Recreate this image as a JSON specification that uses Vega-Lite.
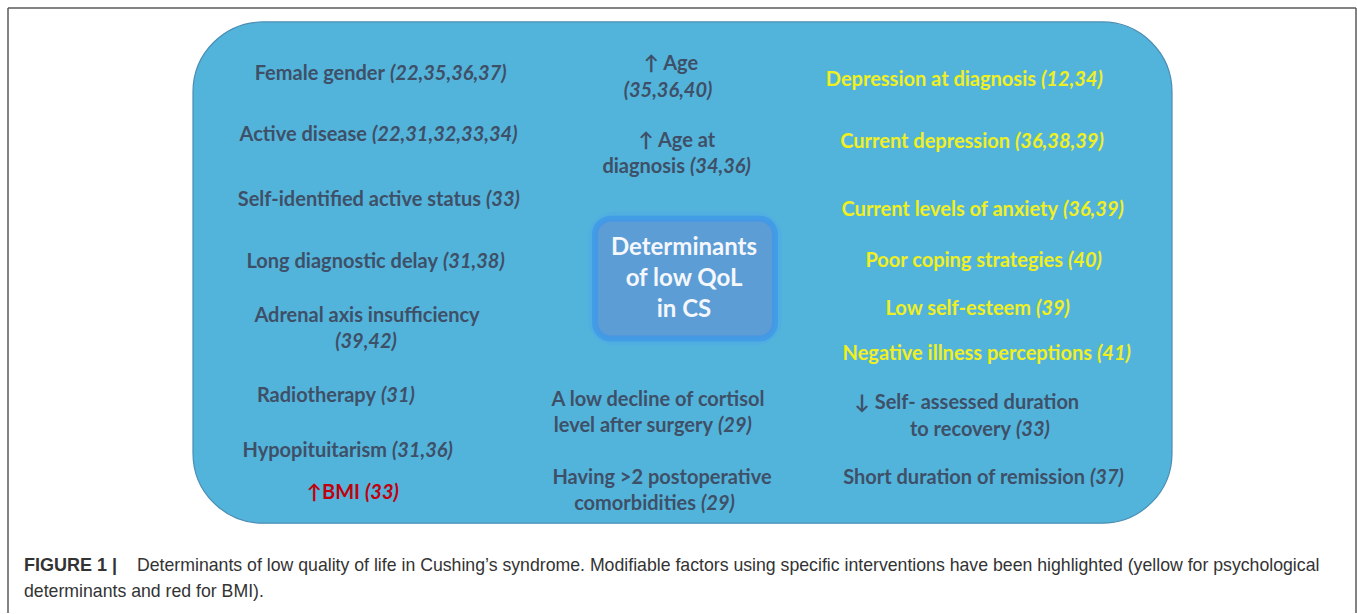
{
  "$schema": "https://vega.github.io/schema/vega-lite/v6.json",
  "width": 1357,
  "height": 614,
  "autosize": {"type": "fit", "contains": "padding"},
  "padding": 0,
  "background": "#ffffff",
  "config": {"view": {"stroke": null}},
  "datasets": {
    "lines": [
      {"x": 8, "y": 8, "x2": 1356, "y2": 8},
      {"x": 8, "y": 8, "x2": 8, "y2": 614},
      {"x": 1356, "y": 8, "x2": 1356, "y2": 614}
    ],
    "boxes": [
      {"x": 193, "x2": 1172, "y": 22, "y2": 524, "kind": "outer"},
      {"x": 595, "x2": 775, "y": 219, "y2": 339, "kind": "center"}
    ],
    "labels": [
      {"x": 390, "y": 74, "t": "Female gender", "kind": "r", "grp": "n"},
      {"x": 390, "y": 74, "t": "(22,35,36,37)", "kind": "i", "grp": "n"},
      {"x": 372, "y": 135, "t": "Active disease", "kind": "r", "grp": "n"},
      {"x": 372, "y": 135, "t": "(22,31,32,33,34)", "kind": "i", "grp": "n"},
      {"x": 486, "y": 200, "t": "Self-identified active status", "kind": "r", "grp": "n"},
      {"x": 486, "y": 200, "t": "(33)", "kind": "i", "grp": "n"},
      {"x": 443, "y": 262, "t": "Long diagnostic delay", "kind": "r", "grp": "n"},
      {"x": 443, "y": 262, "t": "(31,38)", "kind": "i", "grp": "n"},
      {"x": 367, "y": 317, "t": "Adrenal axis insufficiency", "kind": "c", "grp": "n"},
      {"x": 366, "y": 343, "t": "(39,42)", "kind": "ic", "grp": "n"},
      {"x": 381, "y": 397, "t": "Radiotherapy", "kind": "r", "grp": "n"},
      {"x": 381, "y": 397, "t": "(31)", "kind": "i", "grp": "n"},
      {"x": 392, "y": 452, "t": "Hypopituitarism", "kind": "r", "grp": "n"},
      {"x": 392, "y": 452, "t": "(31,36)", "kind": "i", "grp": "n"},
      {"x": 365, "y": 494, "t": "↑BMI", "kind": "r", "grp": "r"},
      {"x": 365, "y": 494, "t": "(33)", "kind": "i", "grp": "r"},
      {"x": 671, "y": 64, "t": "↑  Age", "kind": "c", "grp": "n"},
      {"x": 668, "y": 91, "t": "(35,36,40)", "kind": "ic", "grp": "n"},
      {"x": 677, "y": 141, "t": "↑  Age at", "kind": "c", "grp": "n"},
      {"x": 690, "y": 167, "t": "diagnosis", "kind": "r", "grp": "n"},
      {"x": 690, "y": 167, "t": "(34,36)", "kind": "i", "grp": "n"},
      {"x": 684, "y": 248, "t": "Determinants", "kind": "h", "grp": "w"},
      {"x": 684, "y": 279, "t": "of low QoL", "kind": "h", "grp": "w"},
      {"x": 684, "y": 311, "t": "in CS", "kind": "h", "grp": "w"},
      {"x": 658, "y": 401, "t": "A low decline of cortisol", "kind": "c", "grp": "n"},
      {"x": 718, "y": 427, "t": "level after surgery", "kind": "r", "grp": "n"},
      {"x": 718, "y": 427, "t": "(29)", "kind": "i", "grp": "n"},
      {"x": 662, "y": 479, "t": "Having >2 postoperative", "kind": "c", "grp": "n"},
      {"x": 701, "y": 505, "t": "comorbidities", "kind": "r", "grp": "n"},
      {"x": 701, "y": 505, "t": "(29)", "kind": "i", "grp": "n"},
      {"x": 1041, "y": 80, "t": "Depression at diagnosis", "kind": "r", "grp": "y"},
      {"x": 1041, "y": 80, "t": "(12,34)", "kind": "i", "grp": "y"},
      {"x": 1015, "y": 142, "t": "Current depression", "kind": "r", "grp": "y"},
      {"x": 1015, "y": 142, "t": "(36,38,39)", "kind": "i", "grp": "y"},
      {"x": 1063, "y": 210, "t": "Current levels of anxiety", "kind": "r", "grp": "y"},
      {"x": 1063, "y": 210, "t": "(36,39)", "kind": "i", "grp": "y"},
      {"x": 1068, "y": 261, "t": "Poor coping strategies", "kind": "r", "grp": "y"},
      {"x": 1068, "y": 261, "t": "(40)", "kind": "i", "grp": "y"},
      {"x": 1036, "y": 310, "t": "Low self-esteem", "kind": "r", "grp": "y"},
      {"x": 1036, "y": 310, "t": "(39)", "kind": "i", "grp": "y"},
      {"x": 1097, "y": 355, "t": "Negative illness perceptions", "kind": "r", "grp": "y"},
      {"x": 1097, "y": 355, "t": "(41)", "kind": "i", "grp": "y"},
      {"x": 967, "y": 404, "t": "↓  Self- assessed duration", "kind": "c", "grp": "n"},
      {"x": 1016, "y": 431, "t": "to recovery", "kind": "r", "grp": "n"},
      {"x": 1016, "y": 431, "t": "(33)", "kind": "i", "grp": "n"},
      {"x": 1090, "y": 479, "t": "Short duration of remission", "kind": "r", "grp": "n"},
      {"x": 1090, "y": 479, "t": "(37)", "kind": "i", "grp": "n"},
      {"x": 24, "y": 567, "t": "FIGURE 1 |", "kind": "capb", "grp": "k"},
      {"x": 137, "y": 567, "t": "Determinants of low quality of life in Cushing’s syndrome. Modifiable factors using specific interventions have been highlighted (yellow for psychological", "kind": "cap", "grp": "k"},
      {"x": 24, "y": 593, "t": "determinants and red for BMI).", "kind": "cap", "grp": "k"}
    ]
  },
  "encoding": {
    "x": {"field": "x", "type": "quantitative", "scale": {"domain": [0, 1357], "nice": false, "zero": false}, "axis": null},
    "y": {"field": "y", "type": "quantitative", "scale": {"domain": [0, 614], "nice": false, "zero": false, "reverse": true}, "axis": null}
  },
  "layer": [
    {
      "data": {"name": "lines"},
      "mark": {"type": "rule", "stroke": "#5a5a5a", "strokeWidth": 1.5},
      "encoding": {"x2": {"field": "x2"}, "y2": {"field": "y2"}}
    },
    {
      "data": {"name": "boxes"},
      "transform": [{"filter": "datum.kind === 'outer'"}],
      "mark": {"type": "rect", "fill": "#53b4db", "stroke": "#4a8db3", "strokeWidth": 1.2, "cornerRadius": 70},
      "encoding": {"x2": {"field": "x2"}, "y2": {"field": "y2"}}
    },
    {
      "data": {"name": "boxes"},
      "transform": [{"filter": "datum.kind === 'center'"}],
      "mark": {"type": "rect", "fill": "none", "stroke": "#4aa2ee", "strokeWidth": 14, "strokeOpacity": 0.3, "cornerRadius": 20},
      "encoding": {"x2": {"field": "x2"}, "y2": {"field": "y2"}}
    },
    {
      "data": {"name": "boxes"},
      "transform": [{"filter": "datum.kind === 'center'"}],
      "mark": {"type": "rect", "fill": "#5d9dd6", "stroke": "#3c95ea", "strokeWidth": 6, "strokeOpacity": 0.7, "cornerRadius": 16},
      "encoding": {"x2": {"field": "x2"}, "y2": {"field": "y2"}}
    },
    {
      "data": {"name": "labels"},
      "transform": [{"filter": "datum.kind === 'c'"}],
      "mark": {"type": "text", "align": "center", "baseline": "middle", "font": "Lato", "fontWeight": "bold", "fontSize": 20},
      "encoding": {"text": {"field": "t"}, "color": {"field": "grp", "type": "nominal", "scale": {"domain": ["n", "y", "r", "w", "k"], "range": ["#3e5068", "#f0ef1f", "#c0000c", "#f4f7fb", "#333333"]}, "legend": null}}
    },
    {
      "data": {"name": "labels"},
      "transform": [{"filter": "datum.kind === 'r'"}],
      "mark": {"type": "text", "align": "right", "baseline": "middle", "dx": -5, "font": "Lato", "fontWeight": "bold", "fontSize": 20},
      "encoding": {"text": {"field": "t"}, "color": {"field": "grp", "type": "nominal", "legend": null}}
    },
    {
      "data": {"name": "labels"},
      "transform": [{"filter": "datum.kind === 'i'"}],
      "mark": {"type": "text", "align": "left", "baseline": "middle", "font": "Lato", "fontWeight": "bold", "fontStyle": "italic", "fontSize": 20},
      "encoding": {"text": {"field": "t"}, "color": {"field": "grp", "type": "nominal", "legend": null}}
    },
    {
      "data": {"name": "labels"},
      "transform": [{"filter": "datum.kind === 'ic'"}],
      "mark": {"type": "text", "align": "center", "baseline": "middle", "font": "Lato", "fontWeight": "bold", "fontStyle": "italic", "fontSize": 20},
      "encoding": {"text": {"field": "t"}, "color": {"field": "grp", "type": "nominal", "legend": null}}
    },
    {
      "data": {"name": "labels"},
      "transform": [{"filter": "datum.kind === 'h'"}],
      "mark": {"type": "text", "align": "center", "baseline": "middle", "font": "Lato", "fontWeight": "bold", "fontSize": 24},
      "encoding": {"text": {"field": "t"}, "color": {"field": "grp", "type": "nominal", "legend": null}}
    },
    {
      "data": {"name": "labels"},
      "transform": [{"filter": "datum.kind === 'capb'"}],
      "mark": {"type": "text", "align": "left", "baseline": "middle", "font": "Liberation Sans", "fontWeight": "bold", "fontSize": 18},
      "encoding": {"text": {"field": "t"}, "color": {"field": "grp", "type": "nominal", "legend": null}}
    },
    {
      "data": {"name": "labels"},
      "transform": [{"filter": "datum.kind === 'cap'"}],
      "mark": {"type": "text", "align": "left", "baseline": "middle", "font": "Liberation Sans", "fontSize": 17.7},
      "encoding": {"text": {"field": "t"}, "color": {"field": "grp", "type": "nominal", "legend": null}}
    }
  ]
}
